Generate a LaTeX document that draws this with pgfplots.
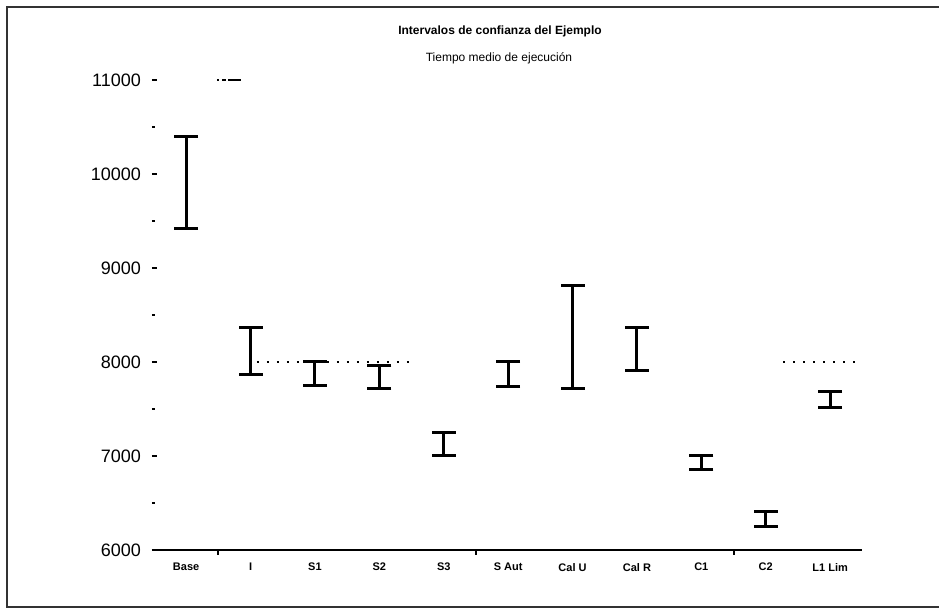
\documentclass[border=0pt]{standalone}
\usepackage{pgfplots}
\pgfplotsset{compat=1.18}
\usepackage{fontspec}
\setmainfont{Liberation Sans}
\begin{document}
\begin{tikzpicture}
\path[use as bounding box] (-76pt,-30pt) rectangle (393.5pt,275pt);
\begin{axis}[
 at={(0,0)}, anchor=south west,
 x=32.2pt, y=0.047pt,
 xmin=-0.53, xmax=10.5, ymin=6000, ymax=11000,
 clip=false,
 scaled y ticks=false,
 axis x line*=bottom, axis y line*=left,
 y axis line style={draw=none},
 x axis line style={line width=1.2pt, -},
 xtick={0,...,10},
 xticklabels={Base, I, S1, S2, S3, S Aut, Cal U, Cal R, C1, C2, L1 Lim},
 x tick label style={font=\fontsize{5.5}{6}\selectfont\bfseries, yshift=-3pt},
 x tick style={draw=none},
 extra x ticks={0.5,4.5,8.5},
 extra x tick labels={},
 extra x tick style={x tick style={draw=black, line width=1pt}, tick align=outside},
 ytick={6000,7000,...,11000},
 minor y tick num=1,
 y tick style={line width=1pt, black},
 major tick length=2.5pt, minor tick length=1.5pt,
 y tick label style={font=\fontsize{9}{10}\selectfont, xshift=-2pt},
 /pgf/number format/assume math mode=true,
 /pgf/number format/1000 sep={},
]
\addplot[black, line width=1.5pt, mark=-, mark size=6pt] coordinates {(0,9415) (0,10404)};
\addplot[black, line width=1.5pt, mark=-, mark size=6pt] coordinates {(1,7865) (1,8365)};
\addplot[black, line width=1.5pt, mark=-, mark size=6pt] coordinates {(2,7745) (2,8000)};
\addplot[black, line width=1.5pt, mark=-, mark size=6pt] coordinates {(3,7713) (3,7968)};
\addplot[black, line width=1.5pt, mark=-, mark size=6pt] coordinates {(4,7000) (4,7248)};
\addplot[black, line width=1.5pt, mark=-, mark size=6pt] coordinates {(5,7737) (5,8000)};
\addplot[black, line width=1.5pt, mark=-, mark size=6pt] coordinates {(6,7720) (6,8816)};
\addplot[black, line width=1.5pt, mark=-, mark size=6pt] coordinates {(7,7907) (7,8365)};
\addplot[black, line width=1.5pt, mark=-, mark size=6pt] coordinates {(8,6858) (8,7003)};
\addplot[black, line width=1.5pt, mark=-, mark size=6pt] coordinates {(9,6250) (9,6412)};
\addplot[black, line width=1.5pt, mark=-, mark size=6pt] coordinates {(10,7518) (10,7684)};
\addplot[black, line width=0.9pt, dash pattern=on 0.8pt off 4.2pt] coordinates {(1.1,8000) (3.5,8000)};
\addplot[black, line width=0.9pt, dash pattern=on 0.8pt off 4.2pt] coordinates {(9.27,8000) (10.43,8000)};
\addplot[black, line width=1pt, dash pattern=on 1pt off 1.5pt on 2pt off 1pt on 6.5pt] coordinates {(0.48,11000) (0.85,11000)};
\end{axis}
\node[font=\fontsize{6}{7}\selectfont\bfseries] at (174pt,259.5pt) {Intervalos de confianza del Ejemplo};
\node[font=\fontsize{6}{7}\selectfont] at (173.5pt,246pt) {Tiempo medio de ejecución};
\draw[line width=1.4pt, black!80] (-72.5pt,-28.5pt) rectangle (396pt,271.5pt);
\end{tikzpicture}
\end{document}
